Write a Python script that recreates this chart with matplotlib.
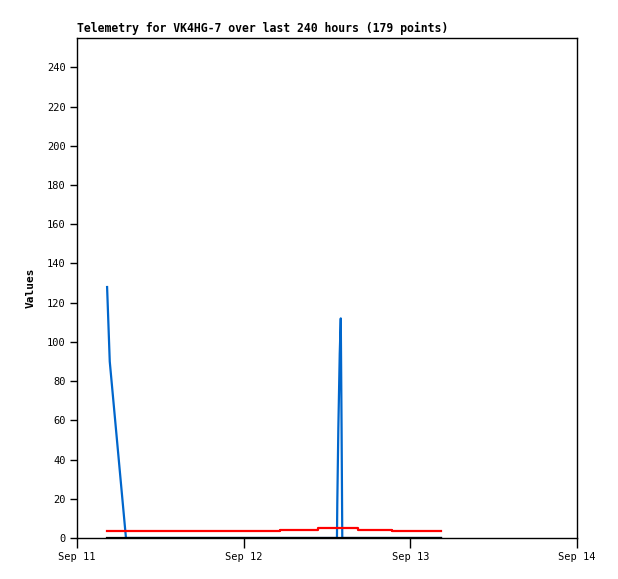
import pandas as pd
import matplotlib
matplotlib.use("Agg")
from matplotlib import pyplot as plt
import matplotlib.dates as mdates

# blue trace
blue_time = ["2024-09-11 04:20", "2024-09-11 04:43", "2024-09-11 07:03",
             "2024-09-12 13:26", "2024-09-12 13:29", "2024-09-12 13:38",
             "2024-09-12 13:50", "2024-09-12 13:59", "2024-09-12 14:06",
             "2024-09-12 14:12", "2024-09-13 04:25"]
blue_vals = [128, 90, 0, 0, 18, 56, 94, 112, 56, 0, 0]

# red trace (stepped)
red_time = ["2024-09-11 04:20", "2024-09-12 05:14", "2024-09-12 10:42",
            "2024-09-12 16:28", "2024-09-12 21:22", "2024-09-13 04:25"]
red_vals = [3.6, 4.3, 4.85, 4.3, 3.8, 3.8]

# black trace
black_time = ["2024-09-11 04:20", "2024-09-13 04:25"]
black_vals = [0, 0]

y_ticks = list(range(0, 241, 20))
x_start, x_end = "2024-09-11", "2024-09-14"

plt.rcParams["font.family"] = "DejaVu Sans Mono"

fig = plt.figure(figsize=(6.18, 5.79), dpi=100)
ax = fig.add_axes([77 / 618, 41 / 579, 500 / 618, 500 / 579])

ax.plot(pd.to_datetime(blue_time), blue_vals, color="#0066cc", lw=1.6)
ax.plot(pd.to_datetime(red_time), red_vals, color="#ff0000", lw=1.6,
        drawstyle="steps-post")
ax.plot(pd.to_datetime(black_time), black_vals, color="black", lw=1.6)

ax.set_xlim(pd.Timestamp(x_start), pd.Timestamp(x_end))
ax.set_ylim(0, 255)
ax.set_yticks(y_ticks)
ax.xaxis.set_major_locator(mdates.DayLocator())
ax.xaxis.set_major_formatter(mdates.DateFormatter("%b %d"))

ax.tick_params(axis="both", direction="out", length=5, width=1, labelsize=7.5, pad=3)
ax.tick_params(axis="x", length=7)
for s in ax.spines.values():
    s.set_linewidth(1)

ax.set_ylabel("Values", fontsize=8, fontweight="bold", labelpad=8)
ax.set_title("Telemetry for VK4HG-7 over last 240 hours (179 points)",
             loc="left", fontsize=8.3, fontweight="bold", pad=4)

fig.savefig("out.png", dpi=100)
